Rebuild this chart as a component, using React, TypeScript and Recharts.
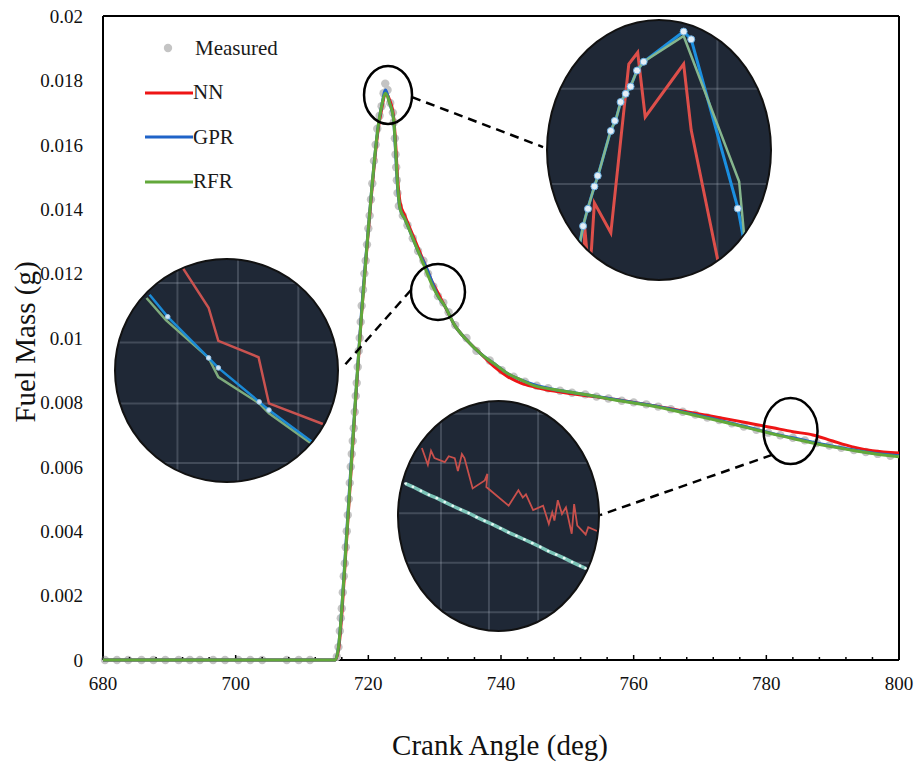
import React from 'react'
import {
  ComposedChart,
  LineChart,
  Line,
  XAxis,
  YAxis,
  ReferenceLine,
  ReferenceDot,
} from 'recharts'

const FONT = '"Liberation Serif", "Times New Roman", serif'

// measured fuel mass samples (crank angle in deg, mass in g)
const measuredAngles = [
  680.3, 682.1, 683.8, 685.8, 687.6, 689.4, 691.4, 693.1, 694.6, 696.6, 698.4, 700.4, 702.2, 704.0, 707.7, 709.5, 711.2,
  715.25, 715.5, 715.7, 715.85, 716.0, 716.15, 716.3, 716.45, 716.6, 716.75, 716.9, 717.05, 717.2, 717.35, 717.5, 717.65,
  717.8, 717.95, 718.1, 718.25, 718.4, 718.55, 718.7, 718.85, 719.0, 719.2, 719.4, 719.6, 719.8, 720.0, 720.2, 720.4,
  720.6, 720.85, 721.1, 721.35, 721.7, 722.0, 722.3, 722.55,
  722.9, 723.3, 723.7, 723.85, 724.0, 724.1, 724.2, 724.3, 724.4, 724.6, 725.2, 725.9, 726.7, 727.5, 728.3, 729.0, 729.8,
  730.5, 731.3, 732.1, 733.1, 734.8, 736.3, 738.3, 740.1, 741.9, 743.6, 745.4, 747.1, 748.9, 750.7, 752.7, 754.4, 756.2,
  758.2, 760.0, 761.9, 763.7, 765.6, 767.4, 769.3, 771.1, 772.9, 774.8, 776.6, 778.5, 780.3, 782.1, 784.0, 785.8, 787.6,
  789.5, 791.3, 793.2, 795.0, 796.8, 798.7,
]
const measuredMass = [
  0, 0, 0, 0, 0, 0, 0, 0, 0, 0, 0, 0, 0, 0, 0, 0, 0,
  0.0001, 0.0004, 0.0009, 0.0013, 0.0016, 0.0021, 0.0026, 0.003, 0.0035, 0.004, 0.0045, 0.005, 0.0055, 0.006, 0.0064, 0.0068,
  0.0072, 0.0077, 0.0082, 0.0086, 0.0091, 0.0096, 0.01, 0.0105, 0.011, 0.0115, 0.012, 0.0124, 0.0129, 0.0134, 0.0138, 0.0143,
  0.0148, 0.0155, 0.016, 0.0165, 0.0169, 0.0172, 0.0176, 0.0179,
  0.0177, 0.0173, 0.017, 0.0167, 0.0162, 0.0157, 0.0153, 0.0149, 0.0145, 0.0141, 0.0138, 0.0135, 0.0131, 0.0127, 0.0124, 0.012, 0.0116,
  0.0113, 0.0111, 0.0108, 0.0104, 0.01, 0.0096, 0.0093, 0.009, 0.0088, 0.00864, 0.00852, 0.00844, 0.00836, 0.0083, 0.00825, 0.00818, 0.00812,
  0.00805, 0.008, 0.00794, 0.00787, 0.00779, 0.00771, 0.00762, 0.00753, 0.00745, 0.00735, 0.00725, 0.00715, 0.00706, 0.00698, 0.0069, 0.00682, 0.00674,
  0.00666, 0.00659, 0.00652, 0.00646, 0.0064, 0.00634,
]

// model predictions
const modelAngles = [
  680, 690, 700, 710, 715, 715.5, 716, 716.5, 717, 717.5, 718, 718.5, 719, 719.5, 720, 720.5, 721, 721.5, 722, 722.6,
  723.2, 723.8, 724.1, 724.4, 724.8, 725.5, 726.5, 727.5, 728.5, 729.5, 730.5, 731.5, 733, 735, 737, 739, 741, 743, 745, 748,
  751, 754, 757, 760, 763, 766, 769, 772, 775, 778, 781, 784, 787, 790, 793, 796, 800,
]
const nnMass = [
  0, 0, 0, 0, 0, 0.0003, 0.0014, 0.003, 0.0046, 0.0062, 0.0078, 0.0093, 0.0108, 0.0121, 0.0133, 0.0145, 0.0156, 0.0165, 0.0171, 0.0176,
  0.0174, 0.0169, 0.0161, 0.015, 0.0142, 0.0138, 0.0133, 0.0128, 0.0123, 0.0118, 0.0114, 0.011, 0.0104, 0.0099, 0.0095, 0.0091, 0.0088, 0.0086, 0.00848, 0.00835,
  0.00826, 0.00818, 0.0081, 0.008, 0.0079, 0.00779, 0.00767, 0.00756, 0.00745, 0.00733, 0.00721, 0.00709, 0.00699, 0.0068, 0.00662, 0.0065, 0.00643,
]
const gprMass = [
  0, 0, 0, 0, 0, 0.0004, 0.0016, 0.0032, 0.0048, 0.0064, 0.0079, 0.0094, 0.0109, 0.0122, 0.0134, 0.0146, 0.0157, 0.0166, 0.0172, 0.0177,
  0.0173, 0.0168, 0.0158, 0.0147, 0.014, 0.0137, 0.0132, 0.0127, 0.0123, 0.0118, 0.0113, 0.011, 0.0104, 0.0099, 0.0095, 0.0092, 0.0089, 0.0087, 0.00855, 0.0084,
  0.0083, 0.0082, 0.0081, 0.008, 0.0079, 0.00777, 0.00763, 0.00749, 0.00734, 0.00719, 0.00703, 0.0069, 0.00676, 0.00664, 0.00653, 0.00643, 0.00634,
]
const rfrMass = [
  0, 0, 0, 0, 0, 0.0004, 0.0016, 0.0031, 0.0047, 0.0063, 0.0079, 0.0094, 0.0108, 0.0121, 0.0134, 0.0146, 0.0157, 0.0166, 0.0172, 0.0176,
  0.0173, 0.0168, 0.0159, 0.0148, 0.014, 0.0137, 0.0132, 0.0127, 0.0122, 0.0117, 0.0113, 0.011, 0.0104, 0.0099, 0.0095, 0.0092, 0.0089, 0.0087, 0.00852, 0.0084,
  0.0083, 0.0082, 0.00808, 0.00798, 0.00788, 0.00775, 0.00761, 0.00747, 0.00732, 0.00717, 0.00702, 0.00688, 0.00674, 0.00662, 0.00651, 0.00641, 0.00631,
]

const xTicks = [680, 684, 688, 692, 696, 700, 704, 708, 712, 716, 720, 724, 728, 732, 736, 740, 744, 748, 752, 756, 760, 764, 768, 772, 776, 780, 784, 788, 792, 796, 800]
const yTicks = [0, 0.002, 0.004, 0.006, 0.008, 0.01, 0.012, 0.014, 0.016, 0.018, 0.02]

// zoomed-in windows, values in the window's own 0-100 frame
const peakMeasured = [[15.8, 20.5], [18.0, 27.2], [20.9, 35.9], [22.4, 40.0], [28.3, 57.4], [30.1, 61.3], [32.7, 68.6], [35.0, 71.8], [37.2, 74.6], [40.1, 80.8], [43.1, 84.2], [61.1, 95.9], [64.5, 92.9], [85.5, 27.3]]
const peakNn = [[16.2, 6], [16.5, 20.5], [18.4, 2], [19.6, 12], [20.9, 29.5], [28.3, 17.9], [36.4, 83.3], [40.4, 87.8], [43.8, 62.8], [61.1, 83.3], [64.5, 57.7], [77.0, 5.1]]
const peakGpr = [[13.6, 10.3], [15.8, 20.5], [18.0, 27.6], [20.9, 35.9], [22.4, 39.7], [28.3, 57.7], [30.5, 61.5], [32.7, 68.6], [35.0, 71.8], [37.2, 74.6], [40.1, 80.8], [43.1, 84.2], [61.1, 95.9], [64.5, 92.9], [85.5, 27.6], [88.1, 15.4], [89.5, 5.1]]
const peakRfr = [[13.6, 10.3], [15.8, 20.5], [18.0, 27.6], [20.9, 35.9], [22.4, 39.7], [28.3, 57.7], [30.5, 61.5], [32.7, 68.6], [35.0, 71.8], [37.2, 74.6], [40.1, 80.8], [43.1, 84.2], [61.1, 94.2], [86.1, 37.8], [88.8, 12.8], [90.3, 5.1]]
const peakGridX = [76.3]
const peakGridY = [36.8, 73.7]

const midMeasured = [[23.4, 74.3], [41.9, 55.7], [46.3, 51.2], [64.8, 35.8], [69.2, 32.1]]
const midNn = [[30.0, 97.0], [30.8, 95.5], [41.9, 78.4], [46.3, 63.4], [64.5, 56.0], [69.2, 35.1], [93.6, 25.8]]
const midGpr = [[15.2, 84.3], [23.4, 74.3], [41.9, 55.7], [46.3, 51.2], [64.8, 35.8], [69.2, 32.1], [88.5, 17.9]]
const midRfr = [[13.8, 82.8], [22.6, 72.8], [41.9, 55.7], [46.3, 47.0], [64.8, 35.1], [69.2, 30.6], [88.5, 16.9]]
const midGridX = [27.8, 55.2, 82.5]
const midGridY = [8.2, 35.1, 62.7, 89.6]

const tailNn = [[11.5, 79.8], [14.5, 72.5], [16.1, 78.6], [17.8, 75.4], [23.0, 73.6], [25.0, 76.2], [28.0, 75.4], [29.6, 69.7], [31.6, 77.2], [32.9, 75.4], [37.0, 62.1], [43.1, 65.6], [44.4, 68.5], [43.9, 62.7], [55.1, 54.5], [60.0, 61.3], [62.2, 58.1], [63.8, 59.5], [67.4, 52.6], [72.4, 54.5], [75.3, 46.5], [77.0, 51.6], [78.1, 48.0], [79.8, 56.9], [81.9, 50.9], [83.9, 53.8], [86.8, 42.2], [88.0, 55.2], [89.6, 45.8], [93.8, 41.9], [95.1, 45.1], [99.5, 43.4]]
const tailMeasured = [[3.3, 64.2], [7.0, 62.8], [11.0, 61.0], [15.0, 59.3], [19.0, 57.8], [23.0, 56.1], [27.0, 54.4], [31.0, 52.8], [35.0, 51.3], [39.0, 49.5], [43.0, 47.9], [47.0, 46.3], [51.0, 44.6], [55.0, 42.8], [59.0, 41.3], [63.0, 39.7], [67.0, 38.1], [71.0, 36.4], [75.0, 34.6], [79.0, 33.1], [83.0, 31.5], [87.0, 29.8], [91.0, 28.1], [93.8, 27.0]]
const tailGridX = [21.1, 45.2, 69.9]
const tailGridY = [7.8, 29.5, 51.2, 73.3, 94.9]

// small callout rings on the main curve: [angle, mass, rx, ry]
const callouts = [[722.97, 0.01755, 24, 29], [730.5, 0.01143, 27, 28], [783.65, 0.00711, 27, 33]]
const leaders = [
  [[726.59, 0.01748], [746.34, 0.01593]],
  [[726.43, 0.01149], [716.18, 0.0091]],
  [[780.86, 0.00637], [754.93, 0.0045]],
]

const measuredData = measuredAngles.map((angle, i) => ({ angle, mass: measuredMass[i] }))
const modelData = modelAngles.map((angle, i) => ({ angle, nn: nnMass[i], gpr: gprMass[i], rfr: rfrMass[i] }))
const pts = (arr: number[][]) => arr.map(([x, y]) => ({ x, y }))

const COLORS = { measured: '#c4c4c4', nn: '#ee1515', gpr: '#1f63c8', rfr: '#62a83a' }
const W = 917
const H = 765
const MARGIN = { top: 16, right: 18, bottom: 45, left: 0 }

function CrankTick({ x, y, payload }: any) {
  const major = payload.value % 20 === 0
  return (
    <g>
      <line x1={x} x2={x} y1={y} y2={y - (major ? 5 : 3)} stroke='#000' strokeWidth={1.5} />
      {major && (
        <text x={x} y={y + 30} textAnchor='middle' fontSize={19} fontFamily={FONT} fill='#111'>
          {payload.value}
        </text>
      )}
    </g>
  )
}

const legendItems = [
  { name: 'Measured', color: COLORS.measured, dot: true },
  { name: 'NN', color: COLORS.nn, dot: false },
  { name: 'GPR', color: COLORS.gpr, dot: false },
  { name: 'RFR', color: COLORS.rfr, dot: false },
]

function LegendBox() {
  return (
    <div style={{ position: 'absolute', left: 145, top: 26, fontFamily: FONT, fontSize: 21, color: '#1a1a1a' }}>
      {legendItems.map((it) => (
        <div key={it.name} style={{ display: 'flex', alignItems: 'center', height: 44.5 }}>
          <svg width={48} height={20} style={{ marginRight: it.dot ? 2 : 0 }}>
            {it.dot ? (
              <circle cx={23} cy={10} r={4.2} fill={it.color} />
            ) : (
              <line x1={0} x2={48} y1={10} y2={10} stroke={it.color} strokeWidth={3} />
            )}
          </svg>
          <span>{it.name}</span>
        </div>
      ))}
    </div>
  )
}

function gridLines(xs: number[], ys: number[]) {
  return [
    ...xs.map((v) => <ReferenceLine key={'gx' + v} x={v} stroke='rgba(190,200,215,0.22)' strokeWidth={2} />),
    ...ys.map((v) => <ReferenceLine key={'gy' + v} y={v} stroke='rgba(190,200,215,0.22)' strokeWidth={2} />),
  ]
}

const insetBox = (left: number, top: number, width: number, height: number): React.CSSProperties => ({
  position: 'absolute',
  left,
  top,
  width,
  height,
  borderRadius: '50%',
  border: '2px solid #111',
  overflow: 'hidden',
  background: '#1f2836',
  boxSizing: 'border-box',
})

const dotShape = (r: number, fill: string, stroke: string) => (p: any) =>
  <circle key={p.index} cx={p.cx} cy={p.cy} r={r} fill={fill} stroke={stroke} strokeWidth={1} />

export default function App() {
  return (
    <div style={{ position: 'absolute', left: 0, top: 0, width: W, height: H, background: '#fff' }}>
      {/* bottom layer: frame, axes and measured points */}
      <div style={{ position: 'absolute', left: 0, top: 0 }}>
        <ComposedChart width={W} height={H} margin={MARGIN}>
          <XAxis
            dataKey='angle'
            type='number'
            domain={[680, 800]}
            ticks={xTicks}
            interval={0}
            height={60}
            tickSize={0}
            tickMargin={0}
            tickLine={false}
            axisLine={{ stroke: '#000', strokeWidth: 2 }}
            tick={<CrankTick />}
          />
          <YAxis
            type='number'
            domain={[0, 0.02]}
            ticks={yTicks}
            width={103}
            tickSize={0}
            tickMargin={20}
            tickLine={false}
            axisLine={{ stroke: '#000', strokeWidth: 2 }}
            tick={{ fontSize: 19, fontFamily: FONT, fill: '#111' }}
            tickFormatter={(v) => `${v}`}
          />
          <ReferenceLine y={0.02} stroke='#000' strokeWidth={2} />
          <ReferenceLine x={800} stroke='#000' strokeWidth={2} />
          <Line data={measuredData} dataKey='mass' name='Measured' stroke='none' dot={dotShape(4.2, COLORS.measured, 'none')} isAnimationActive={false} />
        </ComposedChart>
      </div>

      {/* top layer: model curves and callouts on the same scales */}
      <div style={{ position: 'absolute', left: 0, top: 0 }}>
        <ComposedChart width={W} height={H} margin={MARGIN}>
          <XAxis dataKey='angle' type='number' domain={[680, 800]} height={60} tick={false} tickLine={false} axisLine={false} />
          <YAxis type='number' domain={[0, 0.02]} width={103} tick={false} tickLine={false} axisLine={false} />
          <Line data={modelData} dataKey='nn' name='NN' type='monotone' stroke={COLORS.nn} strokeWidth={3} dot={false} isAnimationActive={false} />
          <Line data={modelData} dataKey='gpr' name='GPR' type='monotone' stroke={COLORS.gpr} strokeWidth={3} dot={false} isAnimationActive={false} />
          <Line data={modelData} dataKey='rfr' name='RFR' type='monotone' stroke={COLORS.rfr} strokeWidth={3} dot={false} isAnimationActive={false} />
          {callouts.map(([a, m, rx, ry]) => (
            <ReferenceDot
              key={a}
              x={a}
              y={m}
              r={rx}
              shape={(p: any) => <ellipse cx={p.cx} cy={p.cy} rx={rx} ry={ry} fill='none' stroke='#000' strokeWidth={2.5} />}
            />
          ))}
          {leaders.map((seg, i) => (
            <ReferenceLine
              key={i}
              segment={[{ x: seg[0][0], y: seg[0][1] }, { x: seg[1][0], y: seg[1][1] }]}
              stroke='#000'
              strokeWidth={2.5}
              strokeDasharray='9 6'
            />
          ))}
        </ComposedChart>
      </div>

      <LegendBox />

      {/* peak window */}
      <div style={insetBox(546, 19, 226, 262)}>
        <LineChart width={222} height={258} margin={{ top: 0, right: 0, bottom: 0, left: 0 }}>
          <XAxis dataKey='x' type='number' domain={[0, 100]} hide />
          <YAxis type='number' domain={[0, 100]} hide />
          {gridLines(peakGridX, peakGridY)}
          <Line data={pts(peakNn)} dataKey='y' stroke='#dd4f4a' strokeWidth={3} dot={false} isAnimationActive={false} />
          <Line data={pts(peakGpr)} dataKey='y' stroke='#1b8fe0' strokeWidth={3} dot={false} isAnimationActive={false} />
          <Line data={pts(peakRfr)} dataKey='y' stroke='#86b68e' strokeWidth={2.5} dot={false} isAnimationActive={false} />
          <Line data={pts(peakMeasured)} dataKey='y' stroke='none' dot={dotShape(3.5, '#e4eef6', '#6aaee0')} isAnimationActive={false} />
        </LineChart>
      </div>

      {/* descent window */}
      <div style={insetBox(114, 258, 225, 225)}>
        <LineChart width={221} height={221} margin={{ top: 0, right: 0, bottom: 0, left: 0 }}>
          <XAxis dataKey='x' type='number' domain={[0, 100]} hide />
          <YAxis type='number' domain={[0, 100]} hide />
          {gridLines(midGridX, midGridY)}
          <Line data={pts(midNn)} dataKey='y' stroke='#c95350' strokeWidth={2.5} dot={false} isAnimationActive={false} />
          <Line data={pts(midRfr)} dataKey='y' stroke='#7eab7c' strokeWidth={2.5} dot={false} isAnimationActive={false} />
          <Line data={pts(midGpr)} dataKey='y' stroke='#1b8ad6' strokeWidth={2.5} dot={false} isAnimationActive={false} />
          <Line data={pts(midMeasured)} dataKey='y' stroke='none' dot={dotShape(2.3, '#cfe4f5', '#9cc8ea')} isAnimationActive={false} />
        </LineChart>
      </div>

      {/* tail window */}
      <div style={insetBox(397, 400, 203, 232)}>
        <LineChart width={199} height={228} margin={{ top: 0, right: 0, bottom: 0, left: 0 }}>
          <XAxis dataKey='x' type='number' domain={[0, 100]} hide />
          <YAxis type='number' domain={[0, 100]} hide />
          {gridLines(tailGridX, tailGridY)}
          <Line data={pts(tailNn)} dataKey='y' stroke='#c8504c' strokeWidth={1.8} dot={false} isAnimationActive={false} />
          <Line data={pts(tailMeasured)} dataKey='y' stroke='#7cc4b8' strokeWidth={3.5} dot={dotShape(1.4, '#e6f8f3', 'none')} isAnimationActive={false} />
        </LineChart>
      </div>

      <div
        style={{
          position: 'absolute',
          left: 25,
          top: 342,
          transform: 'translate(-50%, -50%) rotate(-90deg)',
          fontFamily: FONT,
          fontSize: 29,
          whiteSpace: 'nowrap',
          color: '#111',
        }}
      >
        Fuel Mass (g)
      </div>
      <div
        style={{
          position: 'absolute',
          left: 500,
          top: 745,
          transform: 'translate(-50%, -50%)',
          fontFamily: FONT,
          fontSize: 29,
          whiteSpace: 'nowrap',
          color: '#111',
        }}
      >
        Crank Angle (deg)
      </div>
    </div>
  )
}
